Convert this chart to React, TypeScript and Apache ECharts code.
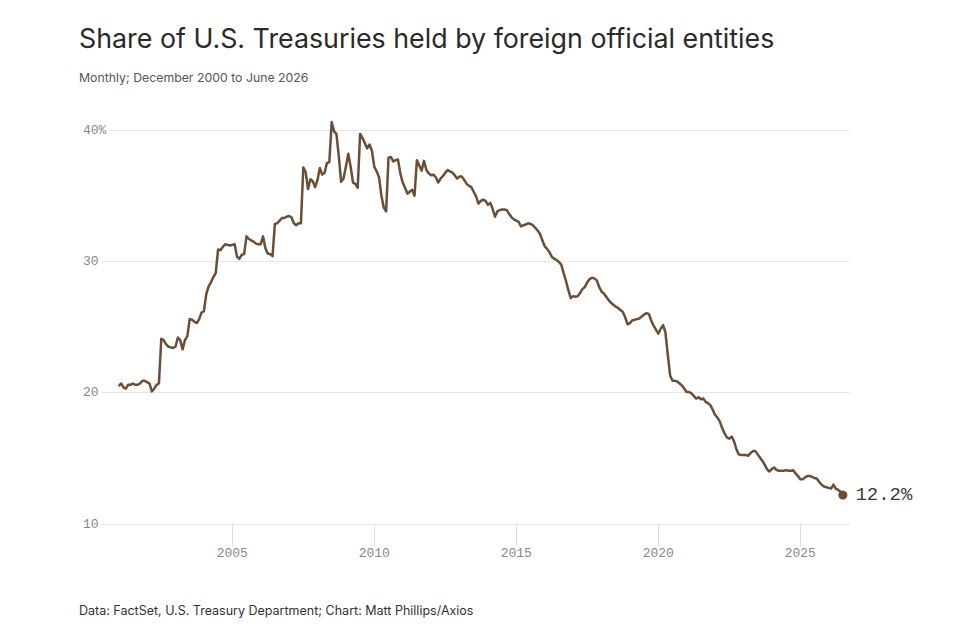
import React, { useEffect, useRef } from "react";
import * as echarts from "echarts";

const titleText = "Share of U.S. Treasuries held by foreign official entities";
const subtitleText = "Monthly; December 2000 to June 2026";
const sourceText = "Data: FactSet, U.S. Treasury Department; Chart: Matt Phillips/Axios";

// first observation: December 2000, monthly thereafter
const startYear = 2000;
const startMonth = 12;

const yearTicks = [2005, 2010, 2015, 2020, 2025];
const yMin = 10;
const yMax = 40;
const yStep = 10;

// share (%) of U.S. Treasuries held by foreign official entities, monthly
const shareValues = [
  20.5,
  20.7, 20.4, 20.3, 20.6, 20.6, 20.7, 20.6, 20.6, 20.7, 20.9, 20.9, 20.8,
  20.7, 20.1, 20.3, 20.6, 20.7, 24.1, 24.0, 23.7, 23.5, 23.45, 23.4, 23.5,
  24.2, 24.0, 23.3, 24.0, 24.3, 25.6, 25.55, 25.4, 25.3, 25.6, 26.1, 26.2,
  27.5, 28.1, 28.4, 28.8, 29.1, 30.9, 30.85, 31.1, 31.3, 31.25, 31.2, 31.25,
  31.3, 30.35, 30.2, 30.5, 30.55, 31.9, 31.7, 31.6, 31.5, 31.35, 31.3, 31.3,
  31.9, 31.0, 30.6, 30.55, 30.4, 32.85, 32.9, 33.1, 33.3, 33.3, 33.4, 33.45,
  33.35, 32.9, 32.75, 32.9, 32.9, 37.15, 36.8, 35.5, 36.25, 36.1, 35.65, 36.2,
  37.1, 36.6, 36.75, 37.5, 37.55, 40.6, 39.9, 39.7, 38.0, 36.05, 36.3, 37.2,
  38.2, 37.2, 36.0, 35.9, 35.6, 39.7, 39.4, 39.0, 38.6, 38.9, 38.4, 37.2,
  36.85, 36.4, 35.0, 34.1, 33.8, 37.9, 37.95, 37.6, 37.7, 37.75, 36.7, 36.0,
  35.6, 35.15, 35.3, 35.45, 35.0, 37.7, 37.3, 36.9, 37.65, 36.95, 36.7, 36.55,
  36.6, 36.4, 36.0, 36.3, 36.5, 36.75, 36.95, 36.85, 36.75, 36.55, 36.3, 36.45,
  36.45, 36.2, 35.9, 35.75, 35.65, 35.3, 34.95, 34.4, 34.6, 34.7, 34.6, 34.3,
  34.45, 34.0, 33.4, 33.8, 33.9, 33.95, 33.95, 33.9, 33.6, 33.35, 33.2, 33.1,
  33.0, 32.65, 32.75, 32.8, 32.9, 32.85, 32.75, 32.55, 32.35, 32.1, 31.6, 31.15,
  30.95, 30.7, 30.35, 30.2, 30.1, 29.95, 29.75, 29.1, 28.5, 27.8, 27.2, 27.35,
  27.3, 27.35, 27.6, 27.9, 28.05, 28.4, 28.65, 28.75, 28.7, 28.55, 28.05, 27.7,
  27.55, 27.3, 27.05, 26.85, 26.7, 26.55, 26.45, 26.3, 26.15, 25.75, 25.2, 25.3,
  25.5, 25.55, 25.6, 25.65, 25.8, 25.95, 26.05, 26.0, 25.5, 25.1, 24.8, 24.5,
  24.85, 25.15, 24.6, 22.9, 21.3, 20.9, 20.9, 20.85, 20.7, 20.55, 20.3, 20.05,
  20.05, 19.95, 19.75, 19.55, 19.65, 19.5, 19.55, 19.3, 19.2, 19.05, 18.7, 18.3,
  18.1, 17.8, 17.3, 16.9, 16.6, 16.5, 16.65, 16.3, 15.7, 15.3, 15.25, 15.25,
  15.25, 15.2, 15.4, 15.55, 15.55, 15.3, 15.05, 14.8, 14.5, 14.15, 14.0, 14.2,
  14.3, 14.1, 14.05, 14.05, 14.05, 14.1, 14.05, 14.05, 14.1, 13.85, 13.65, 13.4,
  13.4, 13.55, 13.65, 13.65, 13.6, 13.5, 13.45, 13.2, 13.0, 12.85, 12.8, 12.75,
  12.7, 13.0, 12.7, 12.6, 12.45, 12.2,
];

const LINE = "#6b4e37";
const MONO = "'Liberation Mono', 'DejaVu Sans Mono', monospace";
const SANS = "Inter, 'Noto Sans', sans-serif";

export default function App() {
  const ref = useRef<HTMLDivElement>(null);

  useEffect(() => {
    if (!ref.current) return;
    const chart = echarts.init(ref.current, null, { renderer: "svg" });

    // x position = end of each month, as a decimal year
    const points = shareValues.map((v, i) => [startYear + (startMonth + i) / 12, v]);
    const last = points[points.length - 1];

    chart.setOption({
      animation: false,
      backgroundColor: "#ffffff",
      grid: { left: 101, right: 129, top: 130, bottom: 112 },
      graphic: [
        {
          type: "text",
          x: 79,
          y: 38,
          style: {
            text: titleText,
            font: `400 26.8px ${SANS}`,
            fill: "#2a2a2a",
            verticalAlign: "middle",
          },
        },
        {
          type: "text",
          x: 79,
          y: 77.5,
          style: {
            text: subtitleText,
            font: `400 12.3px ${SANS}`,
            fill: "#555555",
            verticalAlign: "middle",
          },
        },
        {
          type: "text",
          x: 79,
          y: 610.5,
          style: {
            text: sourceText,
            font: `400 12.5px ${SANS}`,
            fill: "#333333",
            verticalAlign: "middle",
          },
        },
      ],
      xAxis: {
        type: "value",
        min: 2000.377,
        max: 2026.75,
        splitLine: { show: false },
        axisLine: { show: false },
        axisTick: {
          show: true,
          customValues: yearTicks,
          length: 22,
          lineStyle: { color: "#dddddd", width: 1 },
        },
        axisLabel: {
          customValues: yearTicks,
          margin: 23,
          color: "#888888",
          fontFamily: MONO,
          fontSize: 13,
          formatter: (v: number) => String(Math.round(v)),
        },
      },
      yAxis: {
        type: "value",
        min: yMin,
        max: yMax,
        interval: yStep,
        axisLine: { show: false },
        axisTick: { show: false },
        splitLine: { lineStyle: { color: "#e6e6e6", width: 1 } },
        axisLabel: {
          align: "left",
          margin: 18,
          color: "#888888",
          fontFamily: MONO,
          fontSize: 13,
          formatter: (v: number) => (v === yMax ? `{top|${v}%}` : String(v)),
          rich: {
            top: {
              color: "#888888",
              fontFamily: MONO,
              fontSize: 13,
              backgroundColor: "#ffffff",
              padding: [0, 3, 0, 0],
            },
          },
        },
      },
      series: [
        {
          type: "line",
          data: points,
          showSymbol: false,
          clip: false,
          lineStyle: { color: LINE, width: 2.5, join: "round" },
          z: 3,
        },
        {
          type: "scatter",
          data: [last],
          symbol: "circle",
          symbolSize: 9,
          clip: false,
          itemStyle: { color: LINE, opacity: 1 },
          label: {
            show: true,
            position: "right",
            distance: 8,
            fontFamily: MONO,
            fontSize: 19,
            color: "#443a32",
            formatter: (p: any) => `${Number(p.value[1]).toFixed(1)}%`,
          },
          z: 4,
        },
      ],
    });

    return () => chart.dispose();
  }, []);

  return (
    <div
      ref={ref}
      style={{ position: "fixed", left: 0, top: 0, width: 979, height: 636 }}
    />
  );
}
